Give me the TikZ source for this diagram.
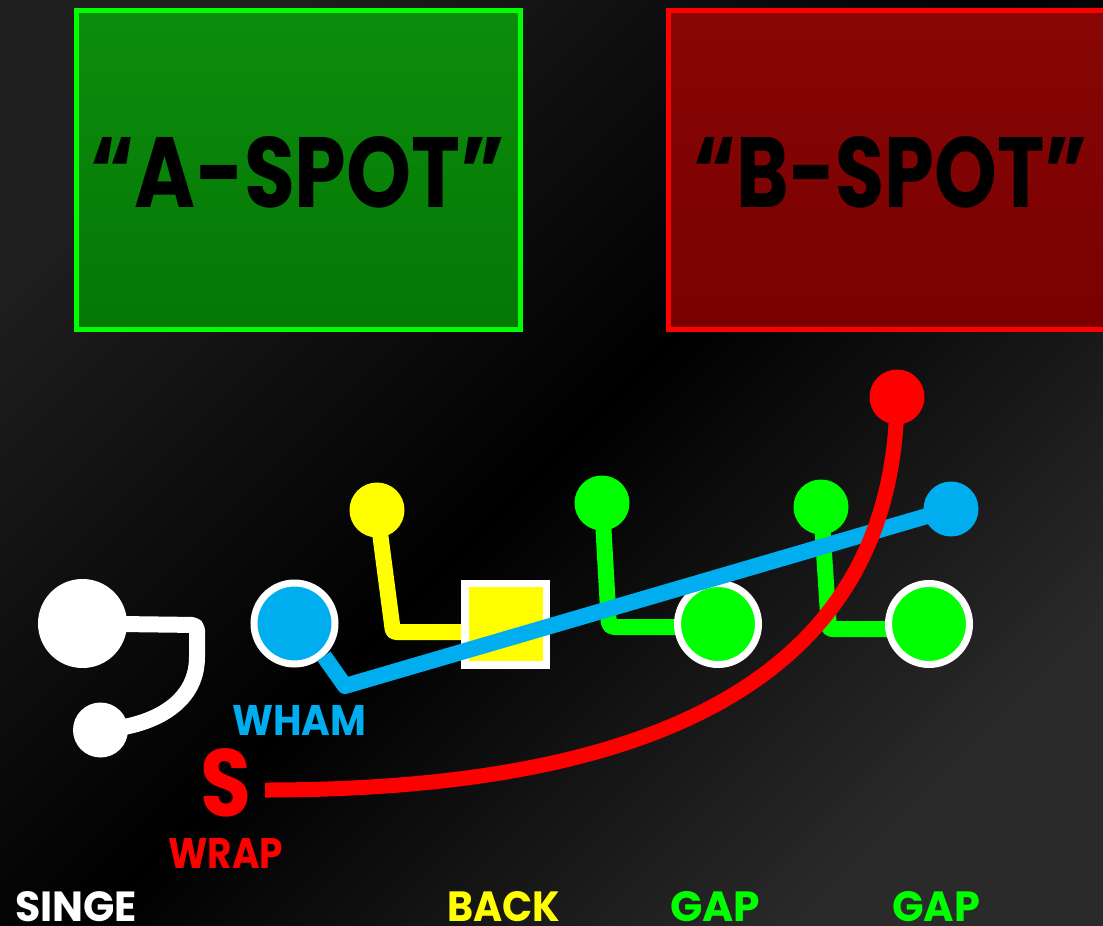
\documentclass[tikz,border=0pt]{standalone}
\usepackage{fontspec}
\setmainfont{Poppins}
\usepackage{graphicx}
\pgfdeclarelayer{bg}
\pgfdeclarelayer{stems}
\pgfdeclarelayer{over}
\pgfdeclarelayer{top}
\pgfsetlayers{bg,stems,main,over,top}
\definecolor{bgA}{HTML}{1E1E1E}
\definecolor{bgB}{HTML}{2A2A2A}
\definecolor{cGreen}{HTML}{00FF00}
\definecolor{cYellow}{HTML}{FFFF00}
\definecolor{cBlue}{HTML}{00AEEF}
\definecolor{cRed}{HTML}{FF0000}
\definecolor{boxGa}{HTML}{0C8D0C}
\definecolor{boxGb}{HTML}{057705}
\definecolor{boxRa}{HTML}{880606}
\definecolor{boxRb}{HTML}{7A0000}
\newcommand\fitlbl[3]{\resizebox{#1}{#2}{\bfseries #3}}
\tikzset{
  stemline/.style={line width=16pt, line join=round, draw=#1},
  dotnode/.style={circle, fill=#1, minimum size=55pt, inner sep=0pt},
  ringnode/.style={circle, fill=#1, draw=white, line width=7pt, minimum size=81pt, inner sep=0pt},
  lbl/.style={anchor=base west, inner sep=0pt, text=#1},
  spotbox/.style={draw=#1, line width=5pt, inner sep=0pt, minimum height=319pt}
}
\begin{document}
\begin{tikzpicture}[x=1pt,y=-1pt]
\useasboundingbox (0,0) rectangle (1103,926);
\begin{pgfonlayer}{bg}
\begin{scope}[y=1pt]
\shade[top color=bgA, bottom color=bgB, middle color=black, shading angle=45] (0,0) rectangle (1103,-926);
\end{scope}
\end{pgfonlayer}

% boxes
\node[spotbox=cGreen, minimum width=444pt, top color=boxGa, bottom color=boxGb] (abox) at (298.5,170) {};
\node[spotbox=cRed, minimum width=457pt, top color=boxRa, bottom color=boxRb] (bbox) at (897,170) {};
\node[lbl=black] (atext) at (90,207) {\fitlbl{415pt}{71pt}{“A-SPOT”}};
\node[lbl=black] (btext) at (693,207) {\fitlbl{394pt}{71pt}{“B-SPOT”}};

% players
\node[circle, fill=white, minimum size=89pt, inner sep=0pt] (sbig) at (82.5,623.5) {};
\node[dotnode=white] (ssmall) at (100.5,730) {};
\node[ringnode=cBlue] (wham) at (294.5,623.5) {};
\node[dotnode=cYellow] (ysmall) at (377,510) {};
\node[rectangle, fill=cYellow, draw=white, line width=7.5pt, minimum size=81.5pt, inner sep=0pt] (ybox) at (505.5,624) {};
\node[dotnode=cGreen] (g1s) at (602,503) {};
\node[ringnode=cGreen] (g1b) at (718,624) {};
\node[dotnode=cGreen] (g2s) at (821,507) {};
\node[ringnode=cGreen] (g2b) at (929,624) {};
\begin{pgfonlayer}{top}
\node[dotnode=cRed] (rend) at (897,397) {};
\node[dotnode=cBlue] (bend) at (951,509) {};
\end{pgfonlayer}

\coordinate (wcorner) at (197,625);
\coordinate (wbend) at (197,652);
\coordinate (ycorner) at (393,632);
\coordinate (g1corner) at (609,627);
\coordinate (g2corner) at (829,629);
\coordinate (bcorner) at (345,686);
\coordinate (wrapend) at (265,790);

\begin{pgfonlayer}{stems}
\draw[stemline=white, rounded corners=5pt] (sbig.center) -- (wcorner) -- (wbend) [sharp corners] .. controls (197,705) and (150,727) .. (ssmall.center);
\draw[stemline=cYellow, rounded corners=3pt] (ysmall.center) -- (ycorner) -- (ybox.center |- ycorner);
\draw[stemline=cGreen, rounded corners=5pt] (g1s.center) -- (g1corner) -- (g1b.center |- g1corner);
\draw[stemline=cGreen, rounded corners=3pt] (g2s.center) -- (g2corner) -- (g2b.center |- g2corner);
\end{pgfonlayer}

\begin{pgfonlayer}{over}
\draw[line width=16pt, line join=round, draw=cBlue] (wham.-48) -- (bcorner) -- (bend.center);
\draw[line width=15pt, draw=cRed] (rend.center) .. controls (895,650) and (700,790) .. (wrapend);
\end{pgfonlayer}

% labels
\node[lbl=cBlue] (lwham) at (232,735) {\fitlbl{134pt}{30pt}{WHAM}};
\node[lbl=cRed] (lS) at (200,816) {\fitlbl{51pt}{68pt}{S}};
\node[lbl=cRed] (lwrap) at (168,868) {\fitlbl{115pt}{30pt}{WRAP}};
\node[lbl=white] (lsinge) at (15,921) {\fitlbl{122pt}{30pt}{SINGE}};
\node[lbl=cYellow] (lback) at (447,921) {\fitlbl{113pt}{30pt}{BACK}};
\node[lbl=cGreen] (lgap1) at (670,921) {\fitlbl{90pt}{30pt}{GAP}};
\node[lbl=cGreen] (lgap2) at (892,921) {\fitlbl{88pt}{30pt}{GAP}};
\end{tikzpicture}
\end{document}
